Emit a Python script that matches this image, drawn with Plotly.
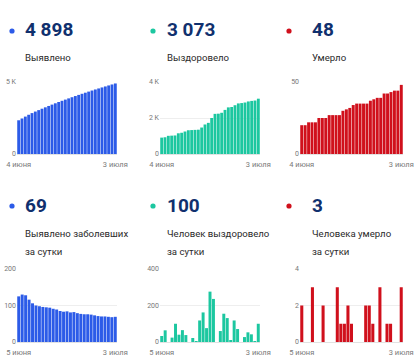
import plotly.graph_objects as go
import pandas as pd

W, H = 418, 361

dates_top = [d.strftime("%Y-%m-%d") for d in pd.date_range("2020-06-04", "2020-07-03")]
dates_bot = dates_top[1:]

cases_total = [2342, 2467, 2597, 2725, 2841, 2947, 3047, 3145, 3241, 3336, 3430,
               3521, 3610, 3695, 3778, 3862, 3943, 4025, 4104, 4181, 4257,
               4333, 4408, 4481, 4552, 4622, 4692, 4761, 4829, 4898]
recovered_total = [910, 930, 1010, 1020, 1030, 1150, 1180, 1250, 1320, 1330,
                   1340, 1350, 1470, 1640, 1730, 2000, 2230, 2240, 2290, 2450,
                   2590, 2610, 2710, 2810, 2830, 2860, 2920, 2950, 2970, 3073]
deaths_total = [20, 20, 22, 22, 22, 25, 25, 25, 27, 27, 27, 27, 30, 31, 32, 34,
                35, 35, 35, 35, 37, 38, 39, 39, 42, 42, 43, 44, 44, 48]
cases_daily = [125, 130, 128, 116, 106, 100, 98, 96, 95, 94, 91, 89, 85, 83, 84,
               81, 82, 79, 77, 76, 76, 75, 73, 71, 70, 70, 69, 68, 69]
recovered_daily = [33, 64, 0, 24, 100, 40, 65, 38, 0, 22, 5, 118, 162, 76, 276,
                   236, 0, 60, 155, 131, 11, 118, 71, 0, 27, 53, 42, 4, 100]
deaths_daily = [2, 0, 0, 3, 0, 0, 2, 0, 0, 0, 3, 1, 1, 2, 1, 0, 0, 0, 2, 2, 1,
                0, 3, 0, 1, 1, 0, 0, 3]

headlines = ["4 898", "3 073", "48", "69", "100", "3"]
titles = [["Выявлено"], ["Выздоровело"], ["Умерло"],
          ["Выявлено заболевших", "за сутки"],
          ["Человек выздоровело", "за сутки"],
          ["Человека умерло", "за сутки"]]
ytick_vals = [[0, 5000], [0, 2000, 4000], [0, 50], [0, 100, 200], [0, 200, 400], [0, 2, 4]]
ytick_text = [["0", "5 K"], ["0", "2 K", "4 K"], ["0", "50"],
              ["0", "100", "200"], ["0", "200", "400"], ["0", "2", "4"]]
xtick_text_top = ["4 июня", "3 июля"]
xtick_text_bot = ["5 июня", "3 июля"]

BLUE, GREEN, RED = "#2c5be8", "#1cc7a0", "#d0101c"
NAVY = "#10306e"

series = [
    (dates_top, cases_total, BLUE, xtick_text_top),
    (dates_top, recovered_total, GREEN, xtick_text_top),
    (dates_top, deaths_total, RED, xtick_text_top),
    (dates_bot, cases_daily, BLUE, xtick_text_bot),
    (dates_bot, recovered_daily, GREEN, xtick_text_bot),
    (dates_bot, deaths_daily, RED, xtick_text_bot),
]

# pixel layout of the panels
col_x = [(17, 117), (160, 260), (300, 403)]
row_y = [(82, 154), (269, 342)]
dot_x = [12, 153, 289]
text_x = [23, 165, 310]
num_y = [30, 205]
lab_y = [[57], [233, 251]]

def px_x(v):
    return v / W

def px_y(v):
    return 1 - v / H

fig = go.Figure()
shapes = []
annotations = []

for i, (xs, ys, color, xt) in enumerate(series):
    r, c = divmod(i, 3)
    n = i + 1
    xa = "x" if n == 1 else f"x{n}"
    ya = "y" if n == 1 else f"y{n}"
    fig.add_trace(go.Bar(x=xs, y=ys, marker=dict(color=color, line=dict(width=0)),
                         xaxis=xa, yaxis=ya, hoverinfo="x+y", showlegend=False))
    x0, x1 = col_x[c]
    y0, y1 = row_y[r]
    xkey = "xaxis" if n == 1 else f"xaxis{n}"
    ykey = "yaxis" if n == 1 else f"yaxis{n}"
    fig.update_layout({
        xkey: dict(domain=[px_x(x0), px_x(x1)], anchor=ya, type="category",
                   range=[-0.5, len(xs) - 0.5], automargin=False,
                   tickvals=[xs[0], xs[-1]], ticktext=xt,
                   showgrid=False, showline=False, zeroline=False,
                   ticks="", ticklabelstandoff=4,
                   tickfont=dict(size=7.5, color="#777", family="Roboto")),
        ykey: dict(domain=[px_y(y1), px_y(y0)], anchor=xa, automargin=False,
                   range=[0, ytick_vals[i][-1]],
                   tickvals=ytick_vals[i], ticktext=ytick_text[i],
                   showgrid=True, gridcolor="#eeeeee", gridwidth=1,
                   zeroline=True, zerolinecolor="#e2e2e2", zerolinewidth=1,
                   showline=False, ticks="",
                   tickfont=dict(size=7, color="#777", family="Roboto")),
    })
    # dot
    cy = num_y[r] + 1
    shapes.append(dict(type="circle", xref="paper", yref="paper",
                       x0=px_x(dot_x[c] - 2.6), x1=px_x(dot_x[c] + 2.6),
                       y0=px_y(cy + 2.6), y1=px_y(cy - 2.6),
                       fillcolor=color, line=dict(width=0)))
    annotations.append(dict(text=f"<b>{headlines[i]}</b>", xref="paper", yref="paper",
                            x=px_x(text_x[c]), y=px_y(num_y[r]),
                            xanchor="left", yanchor="middle", showarrow=False,
                            font=dict(size=19, color=NAVY, family="Roboto")))
    for line, ly in zip(titles[i], lab_y[r]):
        annotations.append(dict(text=line, xref="paper", yref="paper",
                                x=px_x(text_x[c]), y=px_y(ly),
                                xanchor="left", yanchor="middle", showarrow=False,
                                font=dict(size=9.6, color="#2a2a2a", family="Roboto")))

fig.update_layout(width=W, height=H, margin=dict(l=0, r=0, t=0, b=0, autoexpand=False),
                  paper_bgcolor="white", plot_bgcolor="white",
                  bargap=0.14, shapes=shapes, annotations=annotations,
                  font=dict(family="Roboto"))

fig.write_html("out.html", config={"displayModeBar": False},
               post_script="document.body.style.margin='0';"
                           "document.body.style.overflow='hidden';")
